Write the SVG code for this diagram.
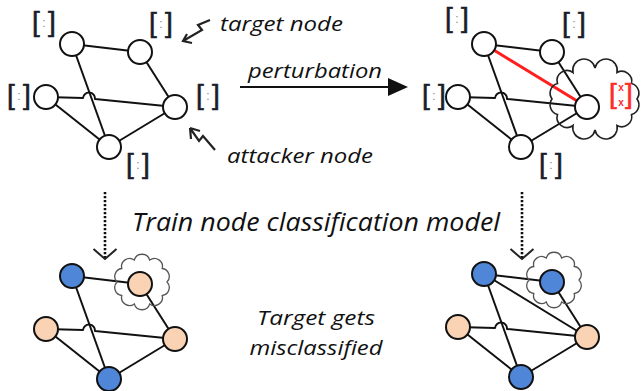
<svg xmlns="http://www.w3.org/2000/svg" xmlns:xlink="http://www.w3.org/1999/xlink" width="644" height="391" viewBox="0 0 644 391">
<style>
.e{fill:none;stroke:#111;stroke-width:2;stroke-linejoin:round}
.red{fill:none;stroke:#ff1f1f;stroke-width:3}
.n{stroke:#111;stroke-width:2;fill:#fff}
.blue{stroke:#111;stroke-width:2;fill:#4f86d8}
.peach{stroke:#111;stroke-width:2;fill:#f9d3b4}
.br{font-family:"Liberation Sans",Arial,sans-serif;font-size:28px;fill:#1c1c2c;stroke:#1c1c2c;stroke-width:0.6;text-anchor:middle}
.brr{font-family:"Liberation Sans",Arial,sans-serif;font-size:28px;fill:#ff2a2a;stroke:#ff2a2a;stroke-width:0.6;text-anchor:middle}
.dt{font-family:"Liberation Sans",Arial,sans-serif;font-size:12px;fill:#888;text-anchor:middle}
.x{font-family:"Liberation Sans",Arial,sans-serif;font-size:10px;font-weight:bold;fill:#ff2a2a;text-anchor:middle}
.t{font-family:"Open Sans","Liberation Sans",sans-serif;font-style:italic;fill:#111}
.sq{fill:none;stroke:#222;stroke-width:2.2;stroke-linejoin:miter}
.dot{fill:none;stroke:#111;stroke-width:2.6;stroke-dasharray:2.2 1.8}
.cl{fill:none;stroke:#555;stroke-width:1.3}
.clb{fill:none;stroke:#222;stroke-width:1.6}
</style>
<defs>
<marker id="ah" viewBox="0 0 20 18" refX="2" refY="9" markerWidth="20" markerHeight="18" markerUnits="userSpaceOnUse" orient="auto">
<path d="M0,0 L20,9 L0,18 Z" fill="#111"/>
</marker>
<marker id="chev" viewBox="-13 -12 26 14" refX="0" refY="0" markerWidth="26" markerHeight="14" markerUnits="userSpaceOnUse" orient="0">
<path d="M-11.5,-10 L0,0 L11.5,-10" fill="none" stroke="#222" stroke-width="2"/>
</marker>
<path id="cloudS" d="M25,0 A8 8 0 0 1 20.2,13.5 A8 8 0 0 1 7.7,21.9 A8 8 0 0 1 -7.7,21.9 A8 8 0 0 1 -20.2,13.5 A8 8 0 0 1 -25,0 A8 8 0 0 1 -20.2,-13.5 A8 8 0 0 1 -7.7,-21.9 A8 8 0 0 1 7.7,-21.9 A8 8 0 0 1 20.2,-13.5 A8 8 0 0 1 25,0 Z"/>
</defs>
<rect width="644" height="391" fill="#fff"/>

<!-- connectors -->
<g id="connectors">
  <g id="edges-top-left">
    <path class="e" d="M72,44 L140,52"/>
    <path class="e" d="M72,44 L109,147"/>
    <path class="e" d="M46,97 L83,98 A6,6 0 0 1 95,99 L175,107"/>
    <path class="e" d="M46,97 L109,147"/>
    <path class="e" d="M140,52 L175,107"/>
    <path class="e" d="M109,147 L175,107"/>
  </g>
  <g id="edges-top-right">
    <path class="e" d="M484,44 L552,52"/>
    <path class="e" d="M484,44 L521,147"/>
    <path class="e" d="M458,97 L495,98 A6,6 0 0 1 507,99 L587,107"/>
    <path class="e" d="M458,97 L521,147"/>
    <path class="e" d="M552,52 L587,107"/>
    <path class="e" d="M521,147 L587,107"/>
    <path class="red" d="M484,44 L587,107"/>
  </g>
  <g id="edges-bottom-left">
    <path class="e" d="M72,276 L140,284"/>
    <path class="e" d="M72,276 L109,379"/>
    <path class="e" d="M46,329 L83,330 A6,6 0 0 1 95,331 L175,339"/>
    <path class="e" d="M46,329 L109,379"/>
    <path class="e" d="M140,284 L175,339"/>
    <path class="e" d="M109,379 L175,339"/>
  </g>
  <g id="edges-bottom-right">
    <path class="e" d="M484,274 L552,282"/>
    <path class="e" d="M484,274 L521,377"/>
    <path class="e" d="M484,274 L587,337"/>
    <path class="e" d="M458,327 L495,328 A6,6 0 0 1 507,329 L587,337"/>
    <path class="e" d="M458,327 L521,377"/>
    <path class="e" d="M552,282 L587,337"/>
    <path class="e" d="M521,377 L587,337"/>
  </g>
  <g id="arrows">
    <path d="M240,87 L390,87" stroke="#111" stroke-width="2.2" marker-end="url(#ah)"/>
    <path class="dot" d="M105,192 L105,259" marker-end="url(#chev)"/>
    <path class="dot" d="M522,192 L522,259" marker-end="url(#chev)"/>
    <path class="sq" d="M210,20 L198,25 L202,30 L183,41 M187,34 L183,41 L192,43"/>
    <path class="sq" d="M215,150 L203,136 L199,141 L190,128 M190,128 L191,139 M190,128 L200,131"/>
  </g>
</g>

<!-- clouds -->
<g id="cloud-top-right"><path class="clb" d="M637,99 A10,10 0 0 1 631.5,114.5 A10,10 0 0 1 617,125.5 A10,10 0 0 1 595,130 A10,10 0 0 1 573,125.5 A10,10 0 0 1 557.5,114.5 A10,10 0 0 1 552,99 A10,10 0 0 1 557.5,83.5 A10,10 0 0 1 573,72.5 A10,10 0 0 1 595,68 A10,10 0 0 1 617,72.5 A10,10 0 0 1 631.5,83.5 A10,10 0 0 1 637,99 Z"/></g>
<g id="cloud-bottom-left"><use xlink:href="#cloudS" class="cl" transform="translate(142,282)"/></g>
<g id="cloud-bottom-right"><use xlink:href="#cloudS" class="cl" transform="translate(554,280)"/></g>

<!-- top-left graph nodes -->
<g id="tl-a"><circle class="n" cx="72" cy="44" r="12"/><text class="br" x="36" y="31">[</text><text class="dt" x="44" y="27">:</text><text class="br" x="52" y="31">]</text></g>
<g id="tl-b-target"><circle class="n" cx="140" cy="52" r="12"/><text class="br" x="153" y="32">[</text><text class="dt" x="161" y="28">:</text><text class="br" x="169" y="32">]</text></g>
<g id="tl-c"><circle class="n" cx="46" cy="97" r="12"/><text class="br" x="11" y="104">[</text><text class="dt" x="19" y="100">:</text><text class="br" x="27" y="104">]</text></g>
<g id="tl-d-attacker"><circle class="n" cx="175" cy="107" r="12"/><text class="br" x="200" y="104">[</text><text class="dt" x="208" y="100">:</text><text class="br" x="216" y="104">]</text></g>
<g id="tl-e"><circle class="n" cx="109" cy="147" r="12"/><text class="br" x="130" y="173">[</text><text class="dt" x="138" y="169">:</text><text class="br" x="146" y="173">]</text></g>

<!-- top-right graph nodes -->
<g id="tr-a"><circle class="n" cx="484" cy="44" r="12"/><text class="br" x="449" y="27">[</text><text class="dt" x="457" y="23">:</text><text class="br" x="465" y="27">]</text></g>
<g id="tr-b"><circle class="n" cx="552" cy="52" r="12"/><text class="br" x="566" y="32">[</text><text class="dt" x="574" y="28">:</text><text class="br" x="582" y="32">]</text></g>
<g id="tr-c"><circle class="n" cx="458" cy="97" r="12"/><text class="br" x="426" y="104">[</text><text class="dt" x="434" y="100">:</text><text class="br" x="442" y="104">]</text></g>
<g id="tr-d"><circle class="n" cx="587" cy="107" r="12"/><text class="brr" x="613" y="103">[</text><text class="x" x="621" y="91">x</text><text class="x" x="621" y="106">x</text><text class="brr" x="629" y="103">]</text></g>
<g id="tr-e"><circle class="n" cx="521" cy="147" r="12"/><text class="br" x="543" y="173">[</text><text class="dt" x="551" y="169">:</text><text class="br" x="559" y="173">]</text></g>

<!-- bottom-left graph nodes -->
<g id="bl-a"><circle class="blue" cx="72" cy="276" r="12"/></g>
<g id="bl-b"><circle class="peach" cx="140" cy="284" r="12"/></g>
<g id="bl-c"><circle class="peach" cx="46" cy="329" r="12"/></g>
<g id="bl-d"><circle class="peach" cx="175" cy="339" r="12"/></g>
<g id="bl-e"><circle class="blue" cx="109" cy="379" r="12"/></g>

<!-- bottom-right graph nodes -->
<g id="br-a"><circle class="blue" cx="484" cy="274" r="12"/></g>
<g id="br-b"><circle class="blue" cx="552" cy="282" r="12"/></g>
<g id="br-c"><circle class="peach" cx="458" cy="327" r="12"/></g>
<g id="br-d"><circle class="peach" cx="587" cy="337" r="12"/></g>
<g id="br-e"><circle class="blue" cx="521" cy="377" r="12"/></g>

<!-- texts -->
<g id="labels">
  <text class="t" x="220" y="31" font-size="20" textLength="123" lengthAdjust="spacingAndGlyphs">target node</text>
  <text class="t" x="248" y="78" font-size="20" textLength="134" lengthAdjust="spacingAndGlyphs">perturbation</text>
  <text class="t" x="227" y="163" font-size="20" textLength="146" lengthAdjust="spacingAndGlyphs">attacker node</text>
  <text class="t" x="132" y="231" font-size="25" textLength="368" lengthAdjust="spacingAndGlyphs">Train node classification model</text>
  <text class="t" x="316" y="325" font-size="20" text-anchor="middle" textLength="118" lengthAdjust="spacingAndGlyphs">Target gets</text>
  <text class="t" x="316" y="355" font-size="20" text-anchor="middle" textLength="133" lengthAdjust="spacingAndGlyphs">misclassified</text>
</g>
</svg>
